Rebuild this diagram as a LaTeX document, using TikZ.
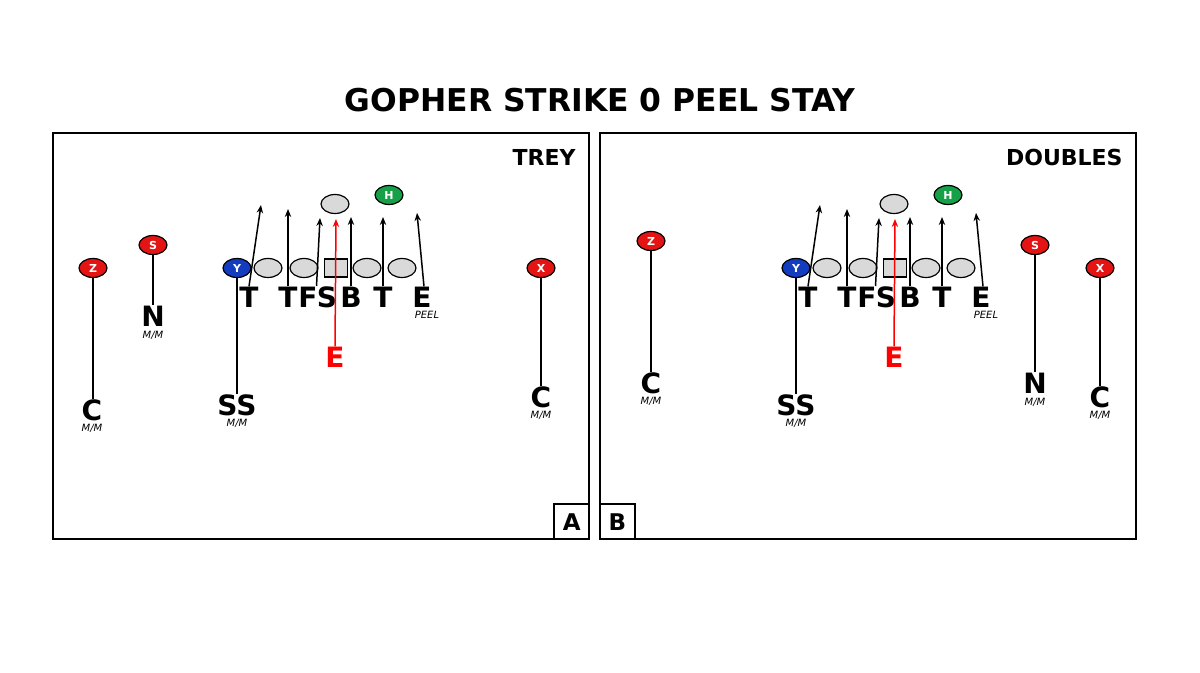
\documentclass[tikz,border=0pt]{standalone}
\usepackage{fontspec}
\setmainfont{DejaVu Sans}
\usetikzlibrary{shapes.geometric,arrows.meta}
\definecolor{playred}{RGB}{228,20,20}
\definecolor{playblue}{RGB}{20,60,190}
\definecolor{playgreen}{RGB}{22,160,72}
\definecolor{olgray}{RGB}{217,217,217}
\tikzset{
  lineman/.style={draw, ellipse, fill=olgray, minimum width=14pt, minimum height=9.5pt, inner sep=0pt, line width=0.6pt},
  snapbox/.style={draw, rectangle, fill=olgray, minimum width=11.5pt, minimum height=9pt, inner sep=0pt, line width=0.6pt},
  skill/.style={draw, ellipse, minimum width=14pt, minimum height=9.5pt, inner sep=0pt, line width=0.6pt, text=white, font=\bfseries\fontsize{5.5}{6}\selectfont},
  defender/.style={inner sep=0pt, font=\bfseries\fontsize{14}{14}\selectfont},
  tag/.style={inner sep=0pt, font=\itshape\fontsize{5}{5}\selectfont},
  route/.style={-{Stealth[length=4pt,width=3.2pt]}, line width=0.75pt},
  cover/.style={line width=1pt},
}
\begin{document}
\begin{tikzpicture}[x=0.5pt, y=-0.5pt]
\useasboundingbox (0,0) rectangle (1200,673);
% Title and panels
\node[font=\bfseries\fontsize{15.7}{18}\selectfont] (title) at (600,100) {GOPHER STRIKE 0 PEEL STAY};
\node[draw, line width=1pt, minimum width=268pt, minimum height=203pt, inner sep=0pt] (trey) at (321,336) {};
\node[draw, line width=1pt, minimum width=268pt, minimum height=203pt, inner sep=0pt] (doubles) at (868,336) {};
\node[draw, line width=0.8pt, minimum size=17.5pt, anchor=south east, font=\bfseries\fontsize{11.5}{12}\selectfont] (boxa) at (trey.south east) {A};
\node[draw, line width=0.8pt, minimum size=17.5pt, anchor=south west, font=\bfseries\fontsize{11.5}{12}\selectfont] (boxb) at (doubles.south west) {B};
\node[anchor=north east, inner sep=0pt, font=\bfseries\fontsize{11}{12}\selectfont] (treyname) at ([shift={(-14,17)}]trey.north east) {TREY};
\node[anchor=north east, inner sep=0pt, font=\bfseries\fontsize{11}{12}\selectfont] (doublesname) at ([shift={(-14,17)}]doubles.north east) {DOUBLES};

% Formation common to both panels
\foreach \p/\dx in {a/0,b/559}{
  \node[lineman] (\p LT) at (\dx+268,268) {};
  \node[lineman] (\p LG) at (\dx+304,268) {};
  \node[snapbox] (\p C) at (\dx+336,268) {};
  \node[lineman] (\p RG) at (\dx+367,268) {};
  \node[lineman] (\p RT) at (\dx+402,268) {};
  \node[lineman] (\p back) at (\dx+335,204) {};
  \node[skill, fill=playgreen] (\p H) at (\dx+389,195) {H};
  \node[skill, fill=playblue] (\p Y) at (\dx+237,268) {Y};
  % front
  \node[defender] (\p T1) at (\dx+249,297) {T};
  \node[defender] (\p T2) at (\dx+288,297) {T};
  \node[defender] (\p F) at (\dx+308,297) {F};
  \node[defender] (\p S) at (\dx+327,297) {S};
  \node[defender] (\p B) at (\dx+351,297) {B};
  \node[defender] (\p T3) at (\dx+383,297) {T};
  \node[defender] (\p E) at (\dx+422,297) {E};
  \node[tag] (\p peel) at (\dx+427,315) {PEEL};
  \node[defender, text=red] (\p red) at (\dx+335,357) {E};
  \node[defender] (\p SS) at (\dx+237,405) {SS};
  \node[tag] (\p SSmm) at (\dx+237,423) {M/M};
  % rush lanes
  \coordinate (\p tipT1) at (\dx+261,205);
  \coordinate (\p tipT2) at (\dx+288,209);
  \coordinate (\p tipF) at (\dx+320,218);
  \coordinate (\p tipB) at (\dx+351,217);
  \coordinate (\p tipT3) at (\dx+383,217);
  \coordinate (\p tipE) at (\dx+417,213);
  \coordinate (\p tipRed) at (\dx+336,219);
  \draw[route] (\p T1.north) -- (\p tipT1);
  \draw[route] (\p T2.north) -- (\p tipT2);
  \draw[route] (\p S.north west) -- (\p tipF);
  \draw[route] (\p B.north) -- (\p tipB);
  \draw[route] (\p T3.north) -- (\p tipT3);
  \draw[route] ([xshift=1pt]\p E.north) -- (\p tipE);
  \draw[route, red] (\p red.north) -- (\p tipRed);
  \draw[cover] (\p Y.south) -- (\p Y.south |- \p SS.north);
}

% Trey
\node[skill, fill=playred] (aZ) at (93,268) {Z};
\node[defender] (aZc) at (92,410) {C};
\node[tag] (aZmm) at (92,428) {M/M};
\node[skill, fill=playred] (aSl) at (153,245) {S};
\node[defender] (aN) at (153,316) {N};
\node[tag] (aNmm) at (153,335) {M/M};
\node[skill, fill=playred] (aX) at (541,268) {X};
\node[defender] (aXc) at (541,397) {C};
\node[tag] (aXmm) at (541,415) {M/M};
\draw[cover] (aZ.south) -- (aZ.south |- aZc.north);
\draw[cover] (aSl.south) -- (aSl.south |- aN.north);
\draw[cover] (aX.south) -- (aX.south |- aXc.north);

% Doubles
\node[skill, fill=playred] (bZ) at (651,241) {Z};
\node[defender] (bZc) at (651,383) {C};
\node[tag] (bZmm) at (651,401) {M/M};
\node[skill, fill=playred] (bSl) at (1035,245) {S};
\node[defender] (bN) at (1035,383) {N};
\node[tag] (bNmm) at (1035,402) {M/M};
\node[skill, fill=playred] (bX) at (1100,268) {X};
\node[defender] (bXc) at (1100,397) {C};
\node[tag] (bXmm) at (1100,415) {M/M};
\draw[cover] (bZ.south) -- (bZ.south |- bZc.north);
\draw[cover] (bSl.south) -- (bSl.south |- bN.north);
\draw[cover] (bX.south) -- (bX.south |- bXc.north);
\end{tikzpicture}
\end{document}
